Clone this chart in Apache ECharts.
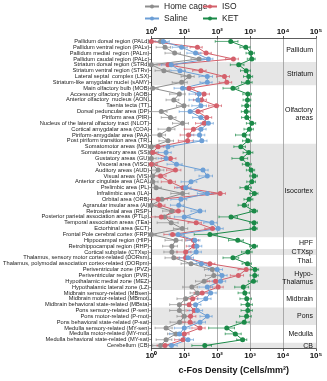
<!DOCTYPE html>
<html>
<head>
<meta charset="utf-8">
<style>html,body{margin:0;padding:0;background:#fff}#chart{width:327px;height:381px}</style>
<script src="https://cdn.jsdelivr.net/npm/echarts@6/dist/echarts.min.js"></script>
</head>
<body>
<div id="chart"></div>
<script>
// brain regions, top to bottom
const regions = [
  'Pallidum dorsal region (PALd)', 'Pallidum ventral region (PALv)', 'Pallidum medial  region (PALm)', 'Pallidum caudal region (PALc)',
  'Striatum dorsal region (STRd)', 'Striatum ventral region (STRv)', 'Lateral septal  complex (LSX)', 'Striatum-like amygdalar nuclei (sAMY)',
  'Main olfactory bulb (MOB)', 'Accessory olfactory bulb (AOB)', 'Anterior olfactory  nucleus (AON)', 'Taenia tecta (TT)',
  'Dorsal peduncular area (DP)', 'Piriform area (PIR)', 'Nucleus of the lateral olfactory tract (NLOT)', 'Cortical amygdalar area (COA)',
  'Piriform-amygdalar area (PAA)', 'Post piriform transition area (TR)',
  'Somatomotor areas (MO)', 'Somatosensory areas (SS)', 'Gustatory areas (GU)', 'Visceral area (VISC)', 'Auditory areas (AUD)',
  'Visual areas (VIS)', 'Anterior cingulate area (ACA)', 'Prelimbic area (PL)', 'Infralimbic area (ILA)', 'Orbital area (ORB)',
  'Agranular insular area (AI)', 'Retrosplenial area (RSP)', 'Posterior parietal association areas (PTLp)',
  'Temporal association areas (TEa)', 'Ectorhinal area (ECT)', 'Frontal Pole cerebral cortex (FRP)',
  'Hippocampal region (HIP)', 'Retrohippocampal region (RHP)', 'Cortical subplate (CTXsp)',
  'Thalamus, sensory motor cortex-related (DORsm)', 'Thalamus, polymodal association cortex-related (DORpm)',
  'Periventricular zone (PVZ)', 'Periventricular region (PVR)', 'Hypothalamic medial zone (MEZ)', 'Hypothalamic lateral zone (LZ)',
  'Midbrain sensory-related (MBsen)', 'Midbrain motor-related (MBmot)', 'Midbrain behavioral state-related (MBsta)',
  'Pons sensory-related (P-sen)', 'Pons motor-related (P-mot)', 'Pons behavioral state-related (P-sat)',
  'Medulla sensory-related (MY-sen)', 'Medulla motor-related (MY-mot)', 'Medulla behavioral state-related (MY-sat)',
  'Cerebellum (CB)'
];

const groupNames = ['Pallidum', 'Striatum', 'Olfactory\nareas', 'Isocortex', 'HPF', 'CTXsp', 'Thal.', 'Hypo-\nThalamus', 'Midbrain', 'Pons', 'Medulla', 'CB'];
const groupStart = [0, 4, 8, 18, 34, 36, 37, 39, 43, 46, 49, 52];
const groupEnd = [3, 7, 17, 33, 35, 36, 38, 42, 45, 48, 51, 52];

// c-Fos density (cells/mm2), mean and SEM
const homeCage = [1.9, 2.6, 5.1, 28, 1.0, 2.4, 14, 8.3, 1.1, 7.1, 4.8, 9.8, 2.0, 3.8, 8.9, 3.4, 1.8, 3.2,
  1.0, 1.0, 1.0, 1.05, 1.6, 1.1, 1.1, 1.4, 8.9, 2.1, 1.0, 4.2, 2.5, 4.0, 8.7, 1.0,
  5.6, 4.2, 4.2, 4.8, 16, 71, 79, 40, 17, 25, 11, 7.1, 7.1, 10, 7.2, 2.8, 5.6, 2.8, 1.9];
const homeCageErr = [0.8, 1.2, 2.5, 12, 0.5, 1.1, 6, 4, 0.5, 3.5, 2, 4, 1, 1.8, 4.5, 1.8, 0.9, 1.5,
  0.4, 0.4, 0.4, 0.5, 0.8, 0.5, 0.5, 0.6, 5, 1, 0.4, 2, 1.2, 2.5, 4, 0.4,
  3, 2, 1.8, 2.2, 8, 30, 35, 18, 8, 10, 5, 3.5, 3.5, 4, 3.5, 1.5, 2.5, 1.4, 0.8];

const saline = [2.3, 8.3, 22, 54, 4.0, 7.4, 50, 50, 8.9, 28, 26, 32, 15, 32, 54, 32, 29, 34,
  3.2, 2.8, 2.8, 5.8, 37, 50, 16, 11, 50, 7.9, 6.8, 30, 10, 69, 107, 6.5,
  21, 24, 23, 13, 33, 100, 140, 126, 50, 63, 45, 22, 25, 50, 30, 10, 7.1, 13, 4.1];
const salineErr = [1.2, 4, 10, 20, 2, 3.5, 22, 20, 4, 14, 12, 15, 8, 14, 22, 14, 13, 15,
  1.6, 1.2, 1.2, 2.8, 16, 22, 8, 5, 25, 4, 3, 14, 5, 30, 45, 3,
  9, 10, 10, 6, 15, 45, 60, 55, 22, 30, 20, 10, 11, 20, 14, 5, 3.5, 6, 2];

const iso = [1.0, 25, 46, 310, 3.2, 32, 166, 195, 14, 40, 33, 95, 26, 48, 40, 19, 13.5, 12.6,
  1.6, 1.1, 3.8, 1.0, 5.4, 1.9, 3.7, 9.1, 123, 1.6, 1.8, 6.6, 2.0, 23, 72, 4.4,
  19, 19.5, 11, 11, 60, 760, 440, 89, 107, 35, 18, 14, 20, 15.5, 15, 30, 10, 9.1, 2.6];
const isoErr = [0.3, 10, 20, 130, 1.5, 14, 70, 80, 6, 18, 14, 40, 11, 20, 18, 9, 6, 6,
  0.8, 0.5, 1.8, 0.4, 2.5, 0.9, 1.7, 4, 55, 0.8, 0.8, 3, 1, 10, 30, 2,
  8, 8, 5, 5, 25, 330, 190, 40, 45, 15, 8, 6, 8, 7, 6, 13, 4, 4, 1.1];

const ket = [257, 740, 1050, 1120, 450, 760, 910, 850, 300, 850, 830, 790, 760, 790, 1120, 950, 660, 850,
  520, 910, 560, 830, 1070, 1320, 1120, 790, 1350, 930, 660, 1320, 263, 1320, 1320, 60,
  420, 1320, 850, 300, 830, 1410, 1380, 1260, 620, 690, 790, 850, 850, 780, 660, 195, 355, 590, 42];
const ketErr = [170, 250, 300, 300, 200, 250, 280, 300, 150, 250, 220, 230, 220, 240, 350, 300, 300, 260,
  200, 300, 280, 250, 300, 350, 330, 300, 380, 280, 230, 350, 150, 350, 320, 40,
  200, 350, 300, 150, 260, 400, 380, 380, 280, 260, 300, 320, 320, 300, 280, 140, 180, 200, 25];

const groups = [
  { name: 'Home cage', values: homeCage, err: homeCageErr, color: '#8e8e8e' },
  { name: 'ISO', values: iso, err: isoErr, color: '#d4606b' },
  { name: 'Saline', values: saline, err: salineErr, color: '#6c9fd6' },
  { name: 'KET', values: ket, err: ketErr, color: '#1b8a48' }
];

const sup = ['\u2070', '\u00b9', '\u00b2', '\u00b3', '\u2074', '\u2075'];
const font = 'Liberation Sans, Arial, sans-serif';

const chart = echarts.init(document.getElementById('chart'));

const xBase = {
  type: 'log', logBase: 10, min: 1, max: 100000,
  axisLine: { show: true, lineStyle: { color: '#333', width: 0.8 } },
  axisTick: { show: true, length: 2.5, lineStyle: { color: '#333', width: 0.8 } },
  minorTick: { show: false },
  axisLabel: {
    fontSize: 8, fontWeight: 'bold', color: '#111', fontFamily: font, margin: 3,
    formatter: v => '10' + sup[Math.round(Math.log10(v))]
  }
};

const groupData = groupStart.map((s, i) => [1, s, groupEnd[i]]);

function groupBox(params, api) {
  const cs = params.coordSys;
  const bandH = cs.height / regions.length;
  const s = api.value(1), e = api.value(2);
  return { cs, y0: cs.y + s * bandH, h: (e - s + 1) * bandH };
}

// shaded bands behind everything
const bandSeries = {
  type: 'custom',
  silent: true,
  z: -1,
  data: groupData,
  encode: { x: 0, y: [1, 2] },
  renderItem: (params, api) => {
    if (params.dataIndex % 2 === 0) return null;
    const b = groupBox(params, api);
    return { type: 'rect', shape: { x: b.cs.x, y: b.y0, width: b.cs.width, height: b.h }, style: { fill: '#e6e6e6' } };
  }
};

// group names on the right, above grid lines
const groupLabelSeries = {
  type: 'custom',
  silent: true,
  z: 5,
  data: groupData,
  encode: { x: 0, y: [1, 2] },
  renderItem: (params, api) => {
    const b = groupBox(params, api);
    return {
      type: 'text',
      style: {
        x: b.cs.x + b.cs.width - 3, y: b.y0 + b.h / 2,
        text: groupNames[params.dataIndex],
        align: 'right', verticalAlign: 'middle',
        fontSize: 7, lineHeight: 8, fontFamily: font, fill: '#111'
      }
    };
  }
};

const errSeries = groups.map(g => ({
  type: 'custom',
  name: g.name + ' err',
  silent: true,
  z: 1,
  data: g.values.map((v, i) => [i, Math.max(v - g.err[i], 1), v + g.err[i]]),
  encode: { x: [1, 2], y: 0 },
  renderItem: (params, api) => {
    const p1 = api.coord([api.value(1), api.value(0)]);
    const p2 = api.coord([api.value(2), api.value(0)]);
    const st = { stroke: g.color, lineWidth: 0.7 };
    return {
      type: 'group',
      children: [
        { type: 'line', shape: { x1: p1[0], y1: p1[1], x2: p2[0], y2: p2[1] }, style: st },
        { type: 'line', shape: { x1: p1[0], y1: p1[1] - 1.3, x2: p1[0], y2: p1[1] + 1.3 }, style: st },
        { type: 'line', shape: { x1: p2[0], y1: p2[1] - 1.3, x2: p2[0], y2: p2[1] + 1.3 }, style: st }
      ]
    };
  }
}));

const lineSeries = groups.map(g => ({
  type: 'line',
  name: g.name,
  data: g.values,
  symbol: 'circle',
  symbolSize: 5,
  z: 3,
  itemStyle: { color: g.color },
  lineStyle: { color: g.color, width: 1 }
}));

const legendBase = {
  orient: 'vertical', top: 2, padding: 0, itemWidth: 14, itemHeight: 5, itemGap: 3,
  textStyle: { fontSize: 8.5, color: '#222', fontFamily: font }
};

chart.setOption({
  animation: false,
  legend: [
    Object.assign({}, legendBase, { left: 144, data: ['Home cage', 'Saline'] }),
    Object.assign({}, legendBase, { left: 202, data: ['ISO', 'KET'] })
  ],
  grid: { left: 151, right: 11, top: 38.5, bottom: 32.5 },
  xAxis: [
    Object.assign({}, xBase, {
      position: 'bottom',
      splitLine: { show: true, lineStyle: { color: '#999', width: 0.8 } },
      name: 'c-Fos Density (Cells/mm\u00b2)',
      nameLocation: 'middle', nameGap: 18,
      nameTextStyle: { fontSize: 9, fontWeight: 'bold', color: '#111', fontFamily: font }
    }),
    Object.assign({}, xBase, { position: 'top', splitLine: { show: false } })
  ],
  yAxis: {
    type: 'category',
    data: regions,
    inverse: true,
    axisLine: { show: true, lineStyle: { color: '#333', width: 0.8 } },
    axisTick: { show: true, length: 2, alignWithLabel: true, lineStyle: { color: '#333', width: 0.6 } },
    axisLabel: { interval: 0, fontSize: 5.7, color: '#222', fontFamily: font, margin: 2 }
  },
  series: [bandSeries].concat(errSeries, lineSeries, [groupLabelSeries])
});
</script>
</body>
</html>
